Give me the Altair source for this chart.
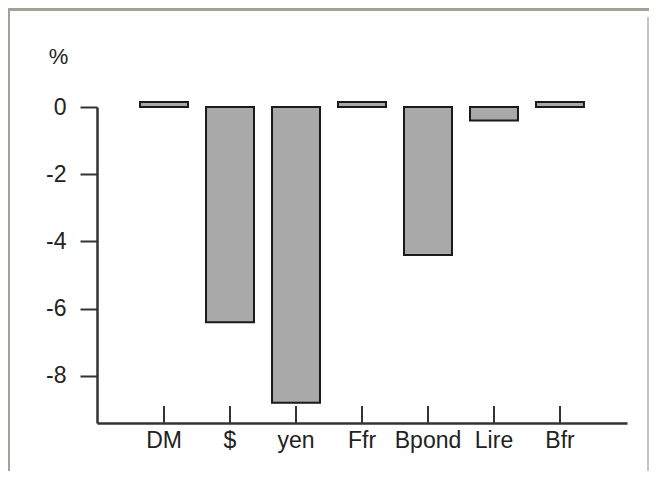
import altair as alt
import pandas as pd

categories = ["DM", "$", "yen", "Ffr", "Bpond", "Lire", "Bfr"]
values = [0.15, -6.4, -8.8, 0.15, -4.4, -0.4, 0.15]
y_ticks = [0, -2, -4, -6, -8]

df = pd.DataFrame({"cat": categories, "val": values})
frame_df = pd.DataFrame({"f": [0]})

FONT = "Liberation Sans"
W, H = 530, 316

x_enc = alt.X(
    "cat:N",
    sort=categories,
    scale=alt.Scale(paddingInner=0.273, paddingOuter=0.652),
    axis=alt.Axis(
        title=None,
        ticks=False,
        labelAngle=0,
        labelFont=FONT,
        labelFontSize=23,
        labelColor="#222222",
        labelPadding=6,
        domainColor="#333333",
        domainWidth=2.5,
        grid=False,
    ),
)

y_enc = alt.Y(
    "val:Q",
    scale=alt.Scale(domain=[-9.4, 0], nice=False, zero=True),
    axis=alt.Axis(
        values=y_ticks,
        labelExpr="toString(datum.value)",
        title="%",
        titleAngle=0,
        titleAlign="center",
        titleBaseline="middle",
        titleX=-39,
        titleY=-51,
        titleFont=FONT,
        titleFontSize=22,
        titleFontWeight="normal",
        titleColor="#222222",
        labelFont=FONT,
        labelFontSize=23,
        labelColor="#222222",
        labelPadding=14,
        tickSize=17,
        tickWidth=2,
        tickColor="#333333",
        domainColor="#333333",
        domainWidth=2.5,
        grid=False,
    ),
)

bars = alt.Chart(df).mark_bar(
    fill="#a9a9a9", stroke="#1a1a1a", strokeWidth=2
).encode(x=x_enc, y=y_enc)

xticks = alt.Chart(df).mark_rule(color="#333333", strokeWidth=2).encode(
    x=alt.X("cat:N", sort=categories),
    y=alt.value(H),
    y2=alt.value(H - 17),
)

frame_color = "#a3a395"
frame_left = alt.Chart(frame_df).mark_rect(color=frame_color).encode(
    x=alt.value(-89), x2=alt.value(-87), y=alt.value(-99), y2=alt.value(364)
)
frame_top = alt.Chart(frame_df).mark_rect(color=frame_color).encode(
    x=alt.value(-89), x2=alt.value(552), y=alt.value(-99), y2=alt.value(-96)
)
frame_right = alt.Chart(frame_df).mark_rect(color="#c4c4c4").encode(
    x=alt.value(550), x2=alt.value(552), y=alt.value(-90), y2=alt.value(364)
)

chart = (
    alt.layer(bars, xticks, frame_left, frame_top, frame_right)
    .properties(width=W, height=H, padding=0, background="white")
    .configure_view(strokeWidth=0)
)

chart.save("out.html", embed_options={"renderer": "svg", "actions": False})
